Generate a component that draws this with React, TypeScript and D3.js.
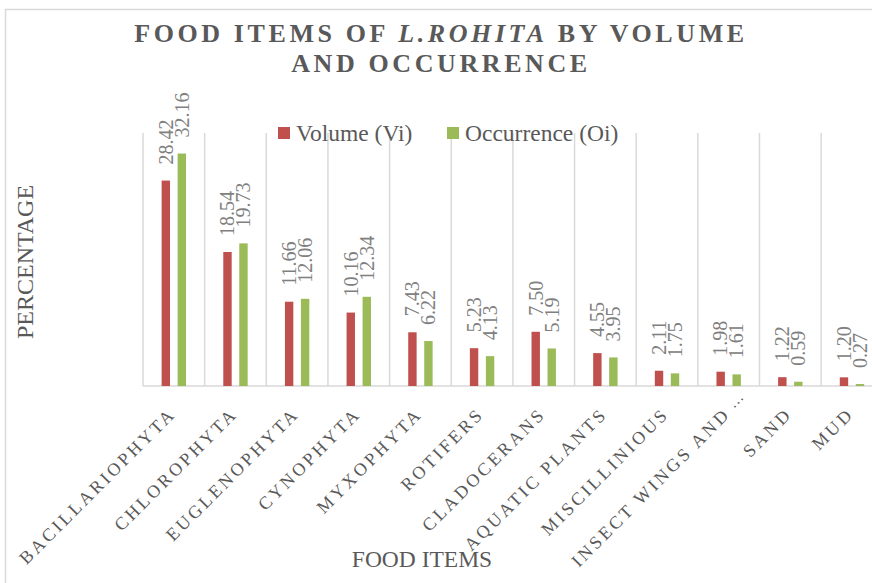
import React from "react";
import * as d3 from "d3";

const categories = [
  "BACILLARIOPHYTA",
  "CHLOROPHYTA",
  "EUGLENOPHYTA",
  "CYNOPHYTA",
  "MYXOPHYTA",
  "ROTIFERS",
  "CLADOCERANS",
  "AQUATIC PLANTS",
  "MISCILLINIOUS",
  "INSECT WINGS AND …",
  "SAND",
  "MUD",
];
const volume = [28.42, 18.54, 11.66, 10.16, 7.43, 5.23, 7.5, 4.55, 2.11, 1.98, 1.22, 1.2];
const occurrence = [32.16, 19.73, 12.06, 12.34, 6.22, 4.13, 5.19, 3.95, 1.75, 1.61, 0.59, 0.27];
const seriesNames = ["Volume (Vi)", "Occurrence (Oi)"];
const seriesColors = ["#C0504D", "#9BBB59"];

const W = 872;
const H = 583;
const FONT = "'Liberation Serif', 'Times New Roman', serif";

export default function App() {
  const plotLeft = 143;
  const plotRight = 882.8;
  const plotTop = 133;
  const plotBottom = 386;

  const x0 = d3.scaleBand<string>().domain(categories).range([plotLeft, plotRight]).padding(0);
  const groupW = 24.4;
  const x1 = d3.scaleBand<number>().domain([0, 1]).range([0, groupW]).paddingInner(0.475).paddingOuter(0);
  const y = d3.scaleLinear().domain([0, 35]).range([plotBottom, plotTop]);
  const series = [volume, occurrence];
  const step = x0.step();
  const gridXs = d3.range(categories.length + 1).map((i) => plotLeft + i * step);

  return (
    <svg
      width={W}
      height={H}
      style={{ position: "absolute", left: 0, top: 0, display: "block", background: "#fff" }}
      fontFamily={FONT}
    >
      <rect x={5.5} y={9.5} width={900} height={600} fill="#fff" stroke="#d9d9d9" strokeWidth={1.5} />

      {/* title */}
      <text x={441} y={42} textAnchor="middle" fontSize={26} fontWeight="bold" fill="#595959" letterSpacing={3.6}>
        <tspan>FOOD ITEMS OF </tspan>
        <tspan fontStyle="italic">L.ROHITA</tspan>
        <tspan> BY VOLUME</tspan>
      </text>
      <text x={441} y={72} textAnchor="middle" fontSize={26} fontWeight="bold" fill="#595959" letterSpacing={3.6}>
        AND OCCURRENCE
      </text>

      {/* gridlines */}
      {gridXs.map((gx, i) => (
        <line key={i} x1={gx} x2={gx} y1={plotTop} y2={plotBottom} stroke="#d9d9d9" strokeWidth={1.5} />
      ))}
      <line x1={plotLeft} x2={plotRight} y1={plotBottom} y2={plotBottom} stroke="#d9d9d9" strokeWidth={1.5} />

      {/* bars */}
      {categories.map((c, i) => {
        const gx = (x0(c) as number) + (step - groupW) / 2;
        return (
          <g key={c}>
            {series.map((s, k) => {
              const bx = gx + (x1(k) as number);
              const bw = x1.bandwidth();
              const top = y(s[i]);
              return (
                <g key={k}>
                  <rect x={bx} y={top} width={bw} height={plotBottom - top} fill={seriesColors[k]} />
                  <text
                    transform={`translate(${bx + bw / 2},${top - 16}) rotate(-90)`}
                    dy="0.34em"
                    fontSize={20}
                    fill="#808080"
                  >
                    {s[i].toFixed(2)}
                  </text>
                </g>
              );
            })}
          </g>
        );
      })}

      {/* category labels */}
      {categories.map((c) => {
        const cx = (x0(c) as number) + step / 2;
        const truncated = c.endsWith("…");
        const main = truncated ? c.replace(/\s*…$/, "") : c;
        return (
          <g key={c} transform={`translate(${cx + 3},415) rotate(-45)`} fill="#595959" fontSize={18}>
            <text textAnchor="end" letterSpacing={3}>
              {main}
            </text>
            {truncated && (
              <text textAnchor="start" dx={6} dy={-3} fontSize={15}>
                …
              </text>
            )}
          </g>
        );
      })}

      {/* legend */}
      {seriesNames.map((n, k) => {
        const lx = [278, 447][k];
        return (
          <g key={n}>
            <rect x={lx} y={127} width={12} height={12} fill={seriesColors[k]} />
            <text x={lx + 18} y={141} fontSize={23.5} fill="#595959">
              {n}
            </text>
          </g>
        );
      })}

      {/* axis titles */}
      <text transform="translate(33,262) rotate(-90)" textAnchor="middle" fontSize={24} fill="#595959">
        PERCENTAGE
      </text>
      <text x={422} y={567} textAnchor="middle" fontSize={23.5} fill="#595959">
        FOOD ITEMS
      </text>
    </svg>
  );
}
